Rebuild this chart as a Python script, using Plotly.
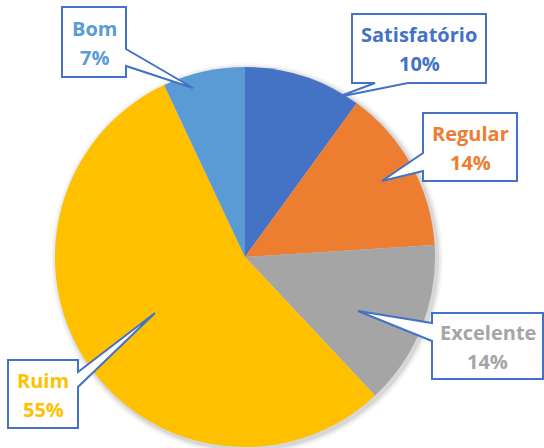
import plotly.graph_objects as go

labels = ["Satisfatório", "Regular", "Excelente", "Ruim", "Bom"]
values = [10, 14, 14, 55, 7]
colors = ["#4472C4", "#ED7D31", "#A5A5A5", "#FFC000", "#5B9BD5"]

W, H = 544, 448
cx, cy, r = 245, 257, 190

# callout layout (pixel coords): box x0,y0,x1,y1 ; tail base side + tip
callouts = {
    "Bom":          dict(box=(62, 7, 126, 77),   side="right",  base=(49, 66),   tip=(193, 88)),
    "Satisfatório": dict(box=(352, 14, 486, 83), side="bottom", base=(375, 408), tip=(338, 97)),
    "Regular":      dict(box=(423, 113, 517, 181), side="left", base=(153, 171), tip=(382, 181)),
    "Excelente":    dict(box=(432, 313, 543, 379), side="left", base=(323, 341), tip=(358, 311)),
    "Ruim":         dict(box=(8, 360, 78, 428),  side="right",  base=(372, 387), tip=(155, 313)),
}

fig = go.Figure()
fig.add_trace(go.Pie(
    labels=labels, values=values, sort=False, direction="clockwise", rotation=0,
    marker=dict(colors=colors, line=dict(width=0)),
    textinfo="none", hoverinfo="label+percent", showlegend=False,
    domain=dict(x=[(cx - r) / W, (cx + r) / W], y=[(H - cy - r) / H, (H - cy + r) / H]),
))

shapes = []
# soft shadow
for d, op in [(6, 0.03), (4, 0.05), (2, 0.08)]:
    shapes.append(dict(type="circle", xref="x", yref="y", layer="below",
                       x0=cx - r - d + 2, x1=cx + r + d + 2, y0=cy - r - d + 2, y1=cy + r + d + 2,
                       fillcolor=f"rgba(0,0,0,{op})", line=dict(width=0)))

annotations = []
for lab, val, col in zip(labels, values, colors):
    c = callouts[lab]
    x0, y0, x1, y1 = c["box"]
    a, b = c["base"]
    tx, ty = c["tip"]
    if c["side"] == "right":
        p = f"M{x0},{y0} L{x1},{y0} L{x1},{a} L{tx},{ty} L{x1},{b} L{x1},{y1} L{x0},{y1} Z"
    elif c["side"] == "left":
        p = f"M{x0},{y0} L{x1},{y0} L{x1},{y1} L{x0},{y1} L{x0},{b} L{tx},{ty} L{x0},{a} Z"
    else:  # bottom
        p = f"M{x0},{y0} L{x1},{y0} L{x1},{y1} L{b},{y1} L{tx},{ty} L{a},{y1} L{x0},{y1} Z"
    shapes.append(dict(type="path", path=p, xref="x", yref="y", fillcolor="white",
                       line=dict(color="#4472C4", width=2), layer="above"))
    mx = (x0 + x1) / 2
    my = (y0 + y1) / 2
    for txt, yy in [(lab, my - 14), (f"{val}%", my + 15)]:
        annotations.append(dict(x=mx, y=yy, xref="x", yref="y", text=f"<b>{txt}</b>",
                                showarrow=False, xanchor="center", yanchor="middle",
                                font=dict(family="Open Sans", size=20, color=col)))

fig.update_layout(
    width=W, height=H, margin=dict(l=0, r=0, t=0, b=0),
    paper_bgcolor="white", plot_bgcolor="rgba(0,0,0,0)",
    xaxis=dict(range=[0, W], visible=False, domain=[0, 1], fixedrange=True),
    yaxis=dict(range=[H, 0], visible=False, domain=[0, 1], fixedrange=True),
    shapes=shapes, annotations=annotations,
)
fig.write_html("out.html", config={"displayModeBar": False},
               post_script="document.body.style.margin='0';document.body.style.overflow='hidden';")
